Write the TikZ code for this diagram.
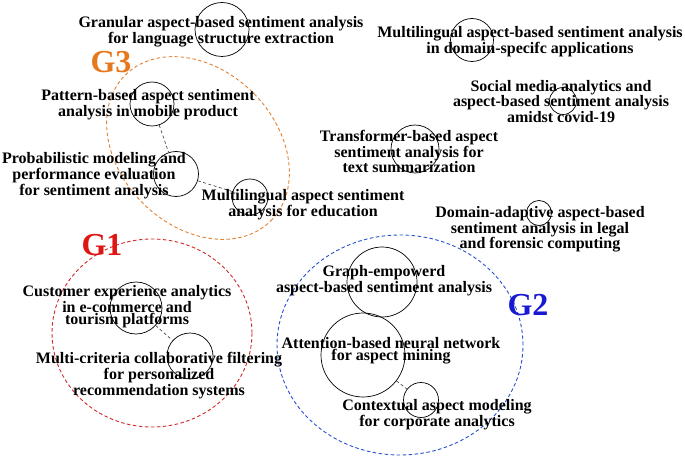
\documentclass[tikz,border=0pt]{standalone}
\usepackage{fontspec}
\setmainfont{Liberation Serif}
\begin{document}
\begin{tikzpicture}[x=1pt,y=-1pt,
  lbl/.style={font=\bfseries\fontsize{16}{12}\selectfont, align=center, inner sep=0pt, text=black},
  topic/.style={circle, draw=black, line width=0.7pt, inner sep=0pt, minimum size=#1},
  link/.style={draw=black!80, line width=0.6pt, dash pattern=on 3pt off 2.5pt},
  grp/.style={line width=0.9pt, dash pattern=on 3.5pt off 2.5pt},
  glabel/.style={font=\bfseries\fontsize{32}{32}\selectfont, inner sep=0pt, anchor=base}]
\definecolor{gorange}{RGB}{230,120,30}
\definecolor{gred}{RGB}{225,20,20}
\definecolor{gblue}{RGB}{25,25,210}
\definecolor{eorange}{RGB}{225,130,50}
\definecolor{ered}{RGB}{210,40,40}
\definecolor{eblue}{RGB}{40,80,210}
\useasboundingbox (0,0) rectangle (685,457);
\fill[white] (0,0) rectangle (685,457);

% group boundaries
\coordinate (g3c) at (198,148);
\coordinate (g1c) at (152,333);
\coordinate (g2c) at (400,345);
\draw[grp, eorange, rotate around={-45:(g3c)}] (g3c) ellipse [x radius=103pt, y radius=78pt];
\draw[grp, ered] (g1c) ellipse [x radius=100pt, y radius=94pt];
\draw[grp, eblue] (g2c) ellipse [x radius=123pt, y radius=110pt];

% circles
\node[topic=54pt] (cGran) at (222,29.5) {};
\node[topic=43pt] (cMdom) at (472,40) {};
\node[topic=27pt] (cSoc) at (563,101) {};
\node[topic=48pt] (cTrans) at (415,149) {};
\node[topic=25pt] (cDom) at (539,213) {};
\node[topic=44pt] (cPat) at (152,104) {};
\node[topic=45pt] (cProb) at (176,174) {};
\node[topic=36pt] (cEdu) at (250,197) {};
\node[topic=52pt] (cCust) at (136,308) {};
\node[topic=46pt] (cMcf) at (190,356) {};
\node[topic=70pt] (cGraph) at (382,282) {};
\node[topic=84pt] (cAtt) at (363,355) {};
\node[topic=35pt] (cCtx) at (421,400) {};

% links
\draw[link] (cPat) -- (cProb);
\draw[link] (cProb) -- (cEdu);
\draw[link] (cCust) -- (cMcf);
\draw[link] (cAtt) -- (cCtx);

% labels
\node[lbl] (tGran) at (221,32) {Granular aspect-based sentiment analysis\\for language structure extraction};
\node[lbl] (tMdom) at (530,42) {Multilingual aspect-based sentiment analysis\\in domain-specifc applications};
\node[lbl] (tSoc) at (561,101.5) {Social media analytics and\\aspect-based sentiment analysis\\amidst covid-19};
\node[lbl] (tTrans) at (409,151.5) {Transformer-based aspect\\sentiment analysis for\\text summarization};
\node[lbl] (tDom) at (540,229.5) {Domain-adaptive aspect-based\\sentiment analysis in legal\\and forensic computing};
\node[lbl] (tPat) at (148,104.5) {Pattern-based aspect sentiment\\analysis in mobile product};
\node[lbl] (tProb) at (94,175.5) {Probabilistic modeling and\\performance evaluation\\for sentiment analysis};
\node[lbl] (tEdu) at (303,204.5) {Multilingual aspect sentiment\\analysis for education};
\node[lbl] (tCust) at (127,306.5) {Customer experience analytics\\in e-commerce and\\tourism platforms};
\node[lbl] (tMcf) at (159,375.5) {Multi-criteria collaborative filtering\\for personalized\\recommendation systems};
\node[lbl] (tGraph) at (384,280.5) {Graph-empowerd\\aspect-based sentiment analysis};
\node[lbl] (tAtt) at (391,350.5) {Attention-based neural network\\for aspect mining};
\node[lbl] (tCtx) at (437,414.5) {Contextual aspect modeling\\for corporate analytics};

% group labels
\node[glabel, text=gorange] (lG3) at (111,73) {G3};
\node[glabel, text=gred] (lG1) at (102,255) {G1};
\node[glabel, text=gblue] (lG2) at (528,315) {G2};
\end{tikzpicture}
\end{document}
